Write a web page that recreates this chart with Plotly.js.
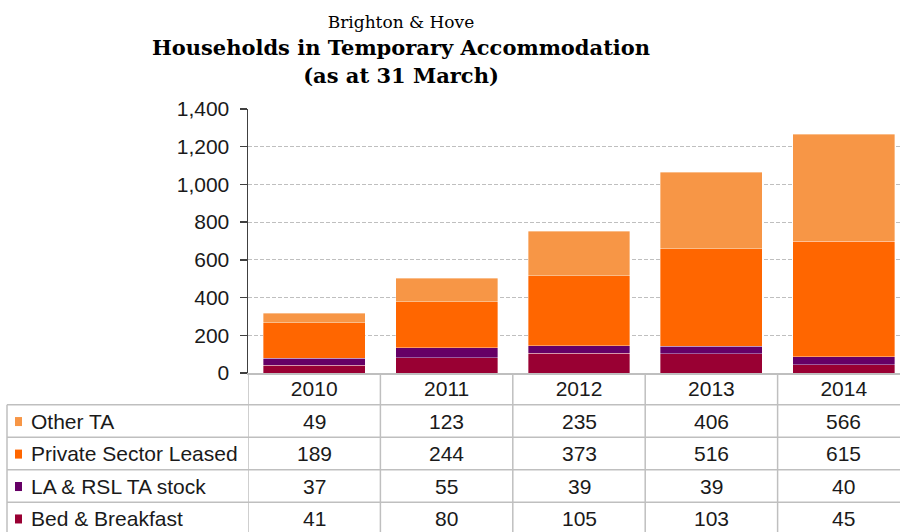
<!DOCTYPE html>
<html>
<head>
<meta charset="utf-8">
<script src="https://cdn.plot.ly/plotly-3.0.1.min.js"></script>
<style>html,body{margin:0;padding:0;background:#fff;}#chart{width:900px;height:532px;}</style>
</head>
<body>
<div id="chart"></div>
<script>
// ---- data ----
var years = ['2010', '2011', '2012', '2013', '2014'];
var otherTA = [49, 123, 235, 406, 566];
var privateSectorLeased = [189, 244, 373, 516, 615];
var laRslStock = [37, 55, 39, 39, 40];
var bedBreakfast = [41, 80, 105, 103, 45];
var seriesNames = ['Other TA', 'Private Sector Leased', 'LA & RSL TA stock', 'Bed & Breakfast'];
var seriesColors = ['#F79646', '#FF6600', '#660066', '#990033'];
var yTickVals = [0, 200, 400, 600, 800, 1000, 1200, 1400];

// table order (top to bottom) matches seriesNames
var tableRows = [otherTA, privateSectorLeased, laRslStock, bedBreakfast];

// ---- layout geometry (pixels) ----
var W = 900, H = 532;
var mL = 248, mR = 0, mT = 109, mB = 532 - 372.7;
var plotH = H - mT - mB;
var plotW = W - mL - mR;
var catW = 132.4;
var xMax = -0.5 + plotW / catW;
var axisY = H - mB;
var rowLines = [404.5, 437, 469.4, 501.8];
var rowH = 32.4;
var tableLeft = 7;
var font = 'Liberation Sans, Arial, sans-serif';
var txtColor = '#1a1a1a';
var gridColor = '#BFBFBF';

function pyToPaper(py) { return (axisY - py) / plotH; }
function pxToPaper(px) { return (px - mL) / plotW; }

// stacked traces: bottom first
var stackOrder = [3, 2, 1, 0];
var traces = stackOrder.map(function (k) {
  return {
    type: 'bar',
    name: seriesNames[k],
    x: years,
    y: tableRows[k],
    marker: { color: seriesColors[k], line: { width: 0.8, color: 'rgba(255,255,255,0.45)' } },
    hoverinfo: 'x+y+name'
  };
});

var shapes = [];
var annotations = [];

// horizontal table lines
rowLines.forEach(function (ry) {
  shapes.push({ type: 'line', xref: 'paper', yref: 'paper',
    x0: pxToPaper(tableLeft), x1: 1, y0: pyToPaper(ry), y1: pyToPaper(ry),
    line: { color: gridColor, width: 1.5 } });
});
// left border of table
shapes.push({ type: 'line', xref: 'paper', yref: 'paper',
  x0: pxToPaper(tableLeft), x1: pxToPaper(tableLeft), y0: pyToPaper(rowLines[0]), y1: pyToPaper(H + 5),
  line: { color: gridColor, width: 1.5 } });
// vertical lines at category boundaries
for (var i = 0; i < years.length; i++) {
  shapes.push({ type: 'line', xref: 'x', yref: 'paper',
    x0: i - 0.5, x1: i - 0.5, y0: 0, y1: pyToPaper(H + 5),
    line: { color: gridColor, width: 1.5 } });
}

// row labels, legend keys and values
tableRows.forEach(function (vals, r) {
  var cy = rowLines[r] + rowH / 2;
  var cyP = pyToPaper(cy);
  shapes.push({ type: 'rect', xref: 'paper', yref: 'paper',
    x0: pxToPaper(15), x1: pxToPaper(22), y0: pyToPaper(cy + 5), y1: pyToPaper(cy - 4),
    fillcolor: seriesColors[r], line: { width: 0 } });
  annotations.push({ xref: 'paper', yref: 'paper', x: pxToPaper(29), y: cyP,
    xanchor: 'left', yanchor: 'middle', showarrow: false, text: seriesNames[r],
    font: { family: font, size: 21, color: txtColor } });
  vals.forEach(function (v, c) {
    annotations.push({ xref: 'x', yref: 'paper', x: c, y: cyP,
      xanchor: 'center', yanchor: 'middle', showarrow: false, text: String(v),
      font: { family: font, size: 21, color: txtColor } });
  });
});

var layout = {
  width: W, height: H,
  margin: { l: mL, r: mR, t: mT, b: mB, pad: 0 },
  paper_bgcolor: '#fff', plot_bgcolor: '#fff',
  barmode: 'stack',
  bargap: 0.23,
  showlegend: false,
  title: {
    text: '<span style="font-size:17px;font-weight:normal">Brighton &amp; Hove</span><br><b>Households in Temporary Accommodation</b><br><b>(as at 31 March)</b>',
    font: { family: 'DejaVu Serif, Liberation Serif, serif', size: 21, color: '#000' },
    x: 401 / 900, xanchor: 'center', xref: 'container',
    y: 1 - 28 / 532, yanchor: 'top', yref: 'container'
  },
  xaxis: {
    type: 'category',
    range: [-0.5, xMax],
    showgrid: false,
    showline: true, linecolor: gridColor, linewidth: 1.5,
    ticks: '', ticklabelstandoff: -4,
    tickfont: { family: font, size: 21, color: txtColor },
    fixedrange: true
  },
  yaxis: {
    range: [0, 1400],
    tickvals: yTickVals,
    tickformat: ',d',
    showgrid: true, gridcolor: gridColor, gridwidth: 1, griddash: '4px,2px',
    zeroline: false,
    showline: true, linecolor: '#404040', linewidth: 1.5,
    ticks: 'outside', ticklen: 7, tickcolor: '#404040', tickwidth: 1.5,
    ticklabelstandoff: 6,
    tickfont: { family: font, size: 21, color: txtColor },
    fixedrange: true
  },
  shapes: shapes,
  annotations: annotations
};

Plotly.newPlot('chart', traces, layout, { displayModeBar: false, staticPlot: true });
</script>
</body>
</html>
